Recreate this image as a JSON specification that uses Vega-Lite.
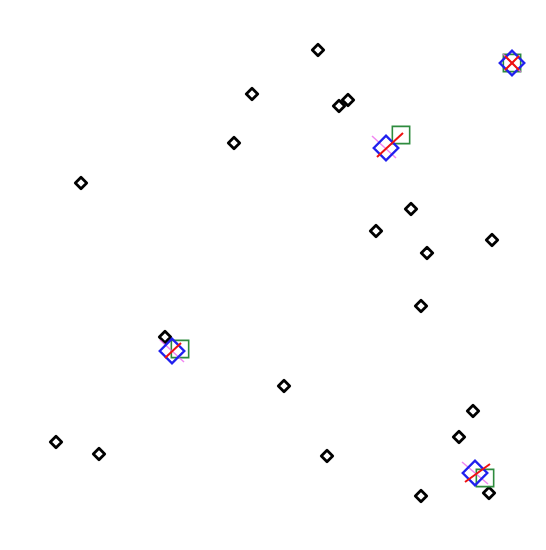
{
  "$schema": "https://vega.github.io/schema/vega-lite/v6.json",
  "width": 546,
  "height": 550,
  "padding": 0,
  "autosize": {"type": "fit", "contains": "padding"},
  "background": "white",
  "config": {"view": {"stroke": null}},
  "datasets": {
    "black": [
      {"x": 318, "y": 50}, {"x": 252, "y": 94}, {"x": 339, "y": 106}, {"x": 348, "y": 100},
      {"x": 234, "y": 143}, {"x": 81, "y": 183}, {"x": 411, "y": 209}, {"x": 376, "y": 231},
      {"x": 427, "y": 253}, {"x": 492, "y": 240}, {"x": 421, "y": 306}, {"x": 165, "y": 337},
      {"x": 284, "y": 386}, {"x": 473, "y": 411}, {"x": 459, "y": 437}, {"x": 56, "y": 442},
      {"x": 99, "y": 454}, {"x": 327, "y": 456}, {"x": 421, "y": 496}, {"x": 489, "y": 493}
    ],
    "blue": [
      {"x": 386, "y": 148}, {"x": 172, "y": 351}, {"x": 475, "y": 473}, {"x": 512, "y": 63}
    ],
    "green": [
      {"x": 401, "y": 135}, {"x": 180, "y": 349}, {"x": 485, "y": 478}, {"x": 512, "y": 63}
    ],
    "pink": [
      {"x": 372, "y": 136, "x2": 396, "y2": 158},
      {"x": 160, "y": 340, "x2": 184, "y2": 362},
      {"x": 462, "y": 462, "x2": 488, "y2": 484},
      {"x": 503, "y": 54, "x2": 521, "y2": 72}
    ],
    "red": [
      {"x": 377, "y": 157, "x2": 403, "y2": 133},
      {"x": 165, "y": 358, "x2": 181, "y2": 343},
      {"x": 465, "y": 482, "x2": 490, "y2": 464},
      {"x": 505, "y": 70, "x2": 519, "y2": 56},
      {"x": 505, "y": 56, "x2": 519, "y2": 70}
    ]
  },
  "encoding": {
    "x": {"field": "x", "type": "quantitative", "scale": {"domain": [0, 546], "nice": false, "zero": false}, "axis": null},
    "y": {"field": "y", "type": "quantitative", "scale": {"domain": [0, 550], "nice": false, "zero": false, "reverse": true}, "axis": null}
  },
  "layer": [
    {
      "data": {"name": "black"},
      "mark": {"type": "point", "shape": "diamond", "size": 130, "filled": false, "stroke": "black", "strokeWidth": 2.8, "strokeJoin": "round", "opacity": 1}
    },
    {
      "data": {"name": "green"},
      "mark": {"type": "point", "shape": "square", "size": 300, "filled": false, "stroke": "#2e8b3e", "strokeWidth": 1.6, "opacity": 1}
    },
    {
      "data": {"name": "pink"},
      "mark": {"type": "rule", "stroke": "#ee66ee", "strokeWidth": 1.5, "opacity": 0.8},
      "encoding": {"x2": {"field": "x2"}, "y2": {"field": "y2"}}
    },
    {
      "data": {"name": "blue"},
      "mark": {"type": "point", "shape": "diamond", "size": 600, "filled": false, "stroke": "#2020ee", "strokeWidth": 2.4, "opacity": 1}
    },
    {
      "data": {"name": "red"},
      "mark": {"type": "rule", "stroke": "#ee1111", "strokeWidth": 2},
      "encoding": {"x2": {"field": "x2"}, "y2": {"field": "y2"}}
    }
  ]
}
